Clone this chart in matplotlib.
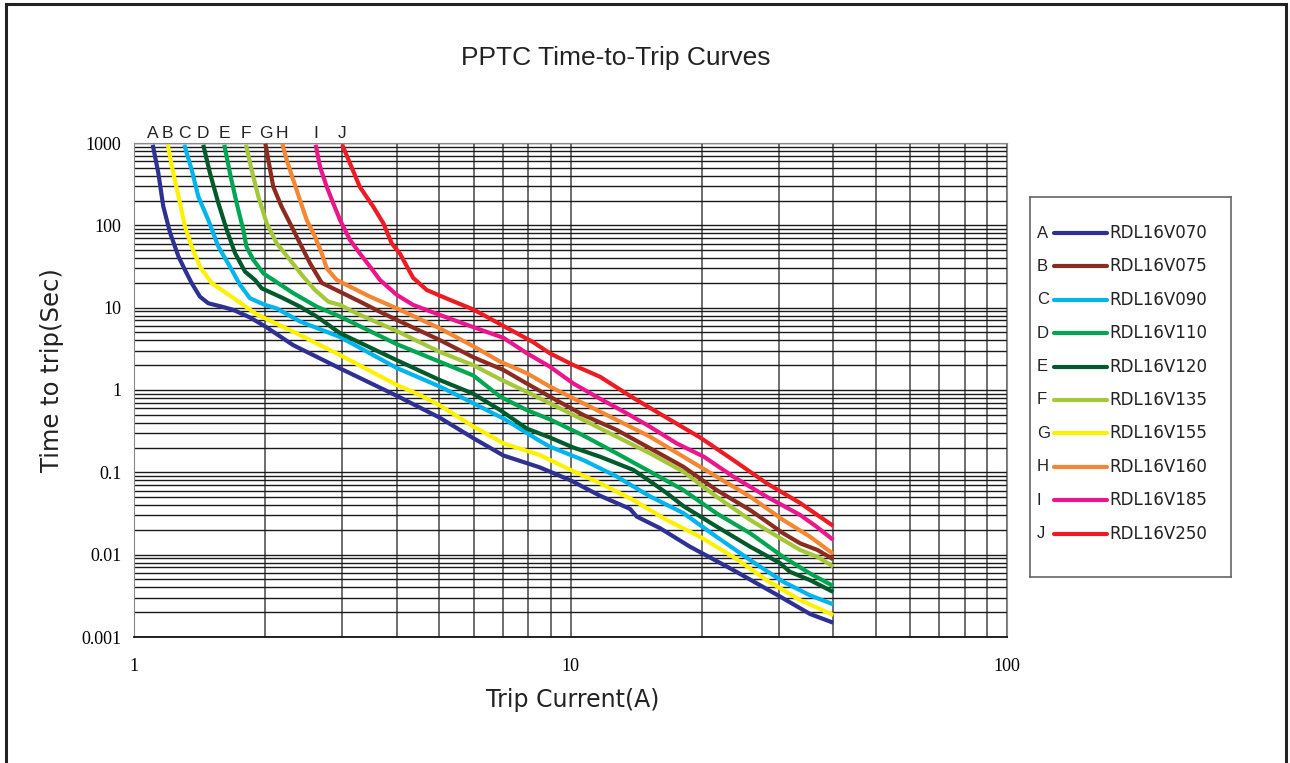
import matplotlib
matplotlib.use("Agg")
import matplotlib.pyplot as plt
from matplotlib.patches import Rectangle
from matplotlib.ticker import LogLocator, FixedLocator, NullFormatter

# trip current (A) / time to trip (s)
a_cur = [1.104, 1.137, 1.167, 1.209, 1.264, 1.309, 1.356, 1.416, 1.48, 1.588, 1.689, 1.844, 2.0, 2.317,
         2.965, 4.0, 5.02, 5.99, 7.02, 8.5, 10.0, 11.68, 13.69, 14.18, 16.03, 18.78, 23.6, 30.2, 35.4, 40]
a_time = [950, 430, 170, 82, 42, 28.6, 19.8, 13.6, 11.3, 10.3, 9.4, 7.6, 5.9, 3.5,
          1.83, 0.85, 0.46, 0.26, 0.16, 0.115, 0.08, 0.052, 0.036, 0.029, 0.021, 0.0125, 0.0065, 0.0031, 0.0019, 0.00149]

b_cur = [1.195, 1.23, 1.275, 1.309, 1.356, 1.416, 1.507, 1.631, 1.78, 1.91, 2.0, 2.317, 2.965, 4.0,
         4.52, 5.02, 5.99, 7.02, 8.51, 10.0, 11.68, 13.93, 16.61, 19.81, 23.6, 28.15, 33.6, 40]
b_time = [950, 430, 185, 96, 55, 31.5, 19.8, 14.9, 10.8, 8.3, 7.4, 5.1, 2.66, 1.15,
          0.87, 0.65, 0.36, 0.225, 0.162, 0.107, 0.074, 0.046, 0.0264, 0.0165, 0.0094, 0.0049, 0.0028, 0.00185]

c_cur = [1.304, 1.356, 1.404, 1.48, 1.561, 1.659, 1.749, 1.844, 1.996, 2.123, 2.4, 2.965, 4.0, 5.02,
         5.99, 7.02, 8.51, 8.97, 10.7, 12.76, 15.21, 18.13, 21.6, 25.8, 30.7, 35.4, 40]
c_time = [950, 470, 223, 116, 55, 31.5, 19, 13, 10.8, 9.8, 6.8, 4.4, 1.85, 1.1,
          0.69, 0.45, 0.24, 0.205, 0.141, 0.089, 0.051, 0.032, 0.0165, 0.0086, 0.0047, 0.0032, 0.00249]

d_cur = [1.441, 1.493, 1.561, 1.631, 1.704, 1.796, 1.893, 1.961, 2.198, 2.4, 2.622, 2.965, 4.0, 5.02,
         5.99, 6.9, 7.94, 8.97, 10.15, 11.68, 13.93, 15.21, 16.61, 18.13, 21.6, 25.8, 30.2, 31.8, 35.4, 40]
d_time = [950, 430, 185, 88, 46, 27.4, 21.7, 17.2, 13, 10.3, 7.8, 4.9, 2.3, 1.32,
          0.9, 0.57, 0.34, 0.265, 0.2, 0.155, 0.107, 0.078, 0.056, 0.039, 0.022, 0.0125, 0.0079, 0.0062, 0.0049, 0.00352]

e_cur = [1.61, 1.659, 1.719, 1.78, 1.81, 1.877, 1.98, 2.085, 2.317, 2.622, 2.965, 4.0, 5.02, 5.99,
         6.9, 7.94, 8.97, 10.7, 12.76, 15.21, 18.13, 21.6, 25.8, 30.7, 35.4, 40]
e_time = [950, 430, 185, 88, 55, 38, 26, 21.7, 15, 10.3, 7.8, 3.6, 2.2, 1.5,
          0.83, 0.57, 0.44, 0.28, 0.17, 0.102, 0.061, 0.0318, 0.0182, 0.0094, 0.0059, 0.00416]

f_cur = [1.805, 1.86, 1.927, 2.014, 2.123, 2.277, 2.443, 2.598, 2.788, 2.965, 3.24, 4.0, 5.02, 5.99,
         6.9, 7.94, 8.97, 10.7, 12.76, 15.21, 18.13, 21.6, 25.8, 30.7, 33.6, 36.8, 40]
f_time = [950, 470, 223, 106, 60.5, 38, 23.8, 16.4, 11.8, 10.8, 8.5, 5.2, 2.9, 2.0,
          1.35, 0.95, 0.69, 0.433, 0.271, 0.17, 0.102, 0.0506, 0.0264, 0.0151, 0.0114, 0.0094, 0.00715]

g_cur = [2.0, 2.031, 2.085, 2.179, 2.277, 2.4, 2.531, 2.692, 3.016, 3.352, 3.66, 4.0, 5.02, 5.99,
         7.02, 7.94, 8.97, 10.7, 12.76, 15.21, 18.13, 21.6, 25.8, 30.7, 33.6, 36.8, 40]
g_time = [980, 622, 294, 168, 106, 60.5, 34.6, 20, 14.9, 11.3, 8.9, 7.1, 4.04, 2.5,
          1.75, 1.2, 0.83, 0.497, 0.327, 0.196, 0.117, 0.061, 0.0348, 0.0182, 0.0137, 0.0114, 0.00877]

h_cur = [2.187, 2.238, 2.317, 2.4, 2.487, 2.598, 2.692, 2.764, 2.913, 3.125, 3.473, 4.0, 5.02, 5.99,
         6.9, 7.94, 8.97, 10.33, 12.76, 15.21, 18.13, 21.6, 25.8, 30.7, 35.4, 40]
h_time = [980, 622, 356, 203, 116, 72.8, 45.7, 30.1, 21.7, 18, 13.6, 9.8, 5.6, 3.4,
          2.21, 1.6, 1.1, 0.755, 0.433, 0.271, 0.155, 0.0886, 0.0506, 0.0264, 0.0165, 0.0102]

i_cur = [2.607, 2.668, 2.764, 2.861, 2.965, 3.125, 3.29, 3.473, 3.66, 4.0, 4.36, 5.02, 5.99, 7.02,
         7.94, 8.97, 10.15, 11.6, 13.45, 15.21, 17.5, 20.2, 23.6, 28.15, 33.6, 36.6, 40]
i_time = [950, 515, 294, 185, 116, 66.4, 45.7, 31.5, 21.7, 14.3, 10.8, 8.15, 5.8, 4.3,
          2.8, 1.92, 1.2, 0.8, 0.521, 0.358, 0.225, 0.155, 0.0886, 0.0506, 0.0303, 0.0219, 0.0151]

j_cur = [3.0, 3.125, 3.29, 3.534, 3.726, 3.893, 4.07, 4.36, 4.685, 5.02, 5.3, 5.99, 7.02, 8.22,
         8.97, 10.15, 11.68, 13.93, 16.61, 19.81, 23.6, 28.15, 33.6, 40]
j_time = [950, 566, 294, 168, 106, 60.5, 45, 23, 16.4, 14, 12.4, 9.5, 6.0, 3.8,
          2.79, 2.01, 1.45, 0.8, 0.46, 0.265, 0.141, 0.0736, 0.0423, 0.0223]

curve_letters = ["A", "B", "C", "D", "E", "F", "G", "H", "I", "J"]
curve_cur = [a_cur, b_cur, c_cur, d_cur, e_cur, f_cur, g_cur, h_cur, i_cur, j_cur]
curve_time = [a_time, b_time, c_time, d_time, e_time, f_time, g_time, h_time, i_time, j_time]
curve_colors = ["#2e3192", "#fff200", "#00b4ec", "#005a2b", "#00a651",
                "#a5c83a", "#8c2b1f", "#f58634", "#ec168c", "#ed1c24"]

legend_letters = ["A", "B", "C", "D", "E", "F", "G", "H", "I", "J"]
legend_parts = ["RDL16V070", "RDL16V075", "RDL16V090", "RDL16V110", "RDL16V120",
                "RDL16V135", "RDL16V155", "RDL16V160", "RDL16V185", "RDL16V250"]
legend_colors = ["#2e3192", "#8c2b1f", "#00b4ec", "#00a651", "#005a2b",
                 "#a5c83a", "#fff200", "#f58634", "#ec168c", "#ed1c24"]

y_ticks = [0.001, 0.01, 0.1, 1, 10, 100, 1000]
y_labels = ["0.001", "0.01", "0.1", "1", "10", "100", "1000"]
x_ticks = [1, 10, 100]
x_labels = ["1", "10", "100"]

W, H = 1290, 763
fig = plt.figure(figsize=(W / 100, H / 100), dpi=100)
ax = fig.add_axes([134 / W, 1 - 637 / H, (1007 - 134) / W, (637 - 143) / H])

for cur, t, col in zip(curve_cur, curve_time, curve_colors):
    ax.plot(cur, t, color=col, lw=3.0, solid_capstyle="butt", zorder=3)

ax.set_xscale("log")
ax.set_yscale("log")
ax.set_xlim(1, 100)
ax.set_ylim(0.001, 1000)

ax.xaxis.set_major_locator(FixedLocator(x_ticks))
ax.yaxis.set_major_locator(FixedLocator(y_ticks))
ax.xaxis.set_minor_locator(LogLocator(base=10, subs=range(2, 10)))
ax.yaxis.set_minor_locator(LogLocator(base=10, subs=range(2, 10)))
ax.xaxis.set_minor_formatter(NullFormatter())
ax.yaxis.set_minor_formatter(NullFormatter())
ax.set_xticklabels(x_labels, fontfamily="Liberation Serif", fontsize=13)
ax.set_yticklabels(y_labels, fontfamily="Liberation Serif", fontsize=13)
ax.tick_params(which="both", length=0)
ax.tick_params(axis="x", pad=15)
ax.tick_params(axis="y", pad=9)

ax.grid(which="both", axis="y", color="#1a1a1a", lw=1.0)
ax.grid(which="both", axis="x", color="#555555", lw=1.2)
ax.set_axisbelow(True)
for side in ["left", "top", "right"]:
    ax.spines[side].set_color("#888888")
ax.spines["bottom"].set_color("#111111")
ax.spines["bottom"].set_linewidth(1.3)

# letters over the start of each curve
for letter, cur in zip(curve_letters, curve_cur):
    ax.text(cur[0], 1.004, letter, transform=ax.get_xaxis_transform(),
            ha="center", va="bottom", fontsize=12.5, fontfamily="Liberation Sans", color="#222222")

fig.text(616 / W, 1 - 58 / H, "PPTC Time-to-Trip Curves", ha="center", va="center",
         fontsize=19, fontfamily="Liberation Sans", color="#222222")
fig.text(573 / W, 1 - 700 / H, "Trip Current(A)", ha="center", va="center",
         fontsize=17, fontfamily="DejaVu Sans", color="#222222")
fig.text(52 / W, 1 - 370 / H, "Time to trip(Sec)", ha="center", va="center", rotation=90,
         fontsize=17.5, fontfamily="DejaVu Sans", color="#222222")

# legend box drawn by hand: letter, line, part number
lax = fig.add_axes([1030 / W, 1 - 577 / H, (1231 - 1030) / W, (577 - 197) / H])
lax.set_xlim(0, 201)
lax.set_ylim(380, 0)
lax.set_xticks([])
lax.set_yticks([])
for s in lax.spines.values():
    s.set_color("#666666")
    s.set_linewidth(1.2)
for k, (let, part, col) in enumerate(zip(legend_letters, legend_parts, legend_colors)):
    yy = 36 + k * 33.4
    lax.text(7, yy, let, ha="left", va="center", fontsize=12, fontfamily="Liberation Sans", color="#222222")
    lax.plot([24, 77], [yy, yy], color=col, lw=3.0, solid_capstyle="round")
    lax.text(79, yy, part, ha="left", va="center", fontsize=12, fontfamily="DejaVu Sans",
             color="#222222")

# outer frame of the page
fig.patches.append(Rectangle((6 / W, -0.02), (1286 - 6) / W, 1.02 - 4 / H, transform=fig.transFigure,
                             fill=False, lw=2.2, edgecolor="#222222"))

fig.savefig("out.png", dpi=100)
